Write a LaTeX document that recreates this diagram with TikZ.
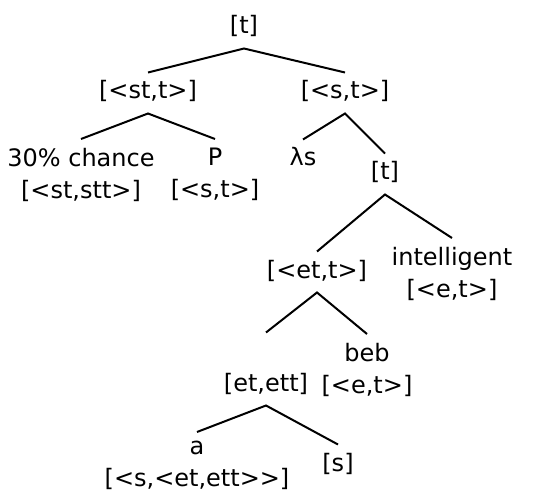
\documentclass[tikz,border=0pt]{standalone}
\usepackage{fontspec}
\setmainfont{DejaVu Sans}
\begin{document}
\begin{tikzpicture}[
        x=1pt, y=-1pt,
        typ/.style={anchor=base, align=center, inner sep=0pt, outer ysep=8.5pt,
            text height=18pt, text depth=6pt, font=\fontsize{24}{32}\selectfont},
        leaf/.style={typ, anchor=north, outer ysep=9pt, text height={}, text depth={},
            execute at begin node=\strut},
        branch/.style={line width=2pt},
    ]
        \useasboundingbox (0,0) rectangle (536,492);

        % Labels
        \node[typ] (root) at (244, 34) {[t]};
        \node[typ] (stt) at (148, 99) {[<st,t>]};
        \node[typ] (st) at (345, 99) {[<s,t>]};
        \node[leaf] (chance) at (81, 139) {30\% chance\\ {[<st,stt>]}};
        \node[leaf] (pred) at (215, 139) {P\\ {[<s,t>]}};
        \node[typ] (lam) at (303, 166) {λs};
        \node[typ] (tt) at (385, 180) {[t]};
        \node[typ] (ett) at (317, 278) {[<et,t>]};
        \node[leaf] (intel) at (452, 238) {intelligent\\ {[<e,t>]}};
        \node[leaf] (beb) at (367, 334) {beb\\ {[<e,t>]}};
        \node[typ] (etett) at (266, 391) {[et,ett]};
        \node[leaf] (det) at (197, 432) {a\\ {[<s,<et,ett>{}>]}};
        \node[typ] (sv) at (338, 471) {[s]};

        % Branches
        \draw[branch] (stt.north) -- (root.south) -- (st.north);
        \draw[branch] (chance.north) -- (stt.south) -- (pred.north);
        \draw[branch] (lam.north) -- (st.south) -- (tt.north);
        \draw[branch] (ett.north) -- (tt.south) -- (intel.north);
        \draw[branch] ([yshift=32pt]etett.north) -- (ett.south) -- (beb.north);
        \draw[branch] (det.north) -- (etett.south) -- (sv.north);
    \end{tikzpicture}
\end{document}
